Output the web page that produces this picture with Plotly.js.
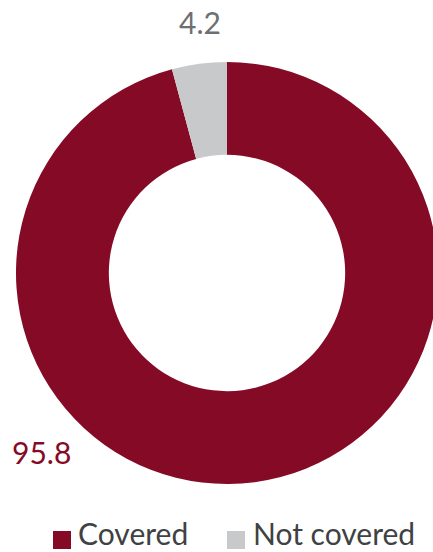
<!DOCTYPE html>
<html>
<head>
<meta charset="utf-8">
<script src="https://cdn.plot.ly/plotly-3.0.1.min.js"></script>
<style>
html,body{margin:0;padding:0;overflow:hidden;background:#fff;width:433px;height:552px;}
#chart{width:454px;height:552px;}
</style>
</head>
<body>
<div id="chart"></div>
<script>
var labels = ["Covered", "Not covered"];
var values = [95.8, 4.2];
var colors = ["#850a26", "#c7c9ca"];
var valueTextColors = ["#850a26", "#6d6f71"];

var trace = {
  type: "pie",
  labels: labels,
  values: values,
  hole: 0.56,
  sort: false,
  direction: "clockwise",
  rotation: 0,
  marker: {colors: colors, line: {width: 0}},
  textinfo: "none",
  hoverinfo: "label+value",
  showlegend: false,
  domain: {x: [0, 1], y: [0, 1]}
};

var font = "Lato, 'Open Sans', sans-serif";
// plot area: x 16..438 px, y 62..484 px (422 x 422)
function px(x) { return (x - 16) / 422; }
function py(y) { return (484 - y) / 422; }

var annPos = [{x: px(41), y: py(452)}, {x: px(200), y: py(22)}];
var annotations = values.map(function (v, i) {
  return {
    text: v.toFixed(1),
    xref: "paper", yref: "paper",
    x: annPos[i].x, y: annPos[i].y,
    xanchor: "center", yanchor: "middle",
    showarrow: false,
    font: {family: font, size: 30, color: valueTextColors[i]}
  };
});

// custom legend (larger swatches as in the reference)
var legSwatchX = [53, 227];
var legTextX = [77, 252];
var shapes = [];
labels.forEach(function (lab, i) {
  shapes.push({
    type: "rect", xref: "paper", yref: "paper",
    x0: px(legSwatchX[i]), x1: px(legSwatchX[i] + 18),
    y0: py(549), y1: py(531),
    fillcolor: colors[i], line: {width: 0}
  });
  annotations.push({
    text: lab,
    xref: "paper", yref: "paper",
    x: px(legTextX[i]), y: py(551.5),
    xanchor: "left", yanchor: "bottom",
    showarrow: false, borderpad: 0,
    font: {family: font, size: 30, color: "#404143"}
  });
});

var layout = {
  width: 454, height: 552,
  margin: {l: 16, r: 16, t: 62, b: 68},
  paper_bgcolor: "#ffffff",
  showlegend: false,
  annotations: annotations,
  shapes: shapes
};

Plotly.newPlot("chart", [trace], layout, {displayModeBar: false, staticPlot: true});
</script>
</body>
</html>
